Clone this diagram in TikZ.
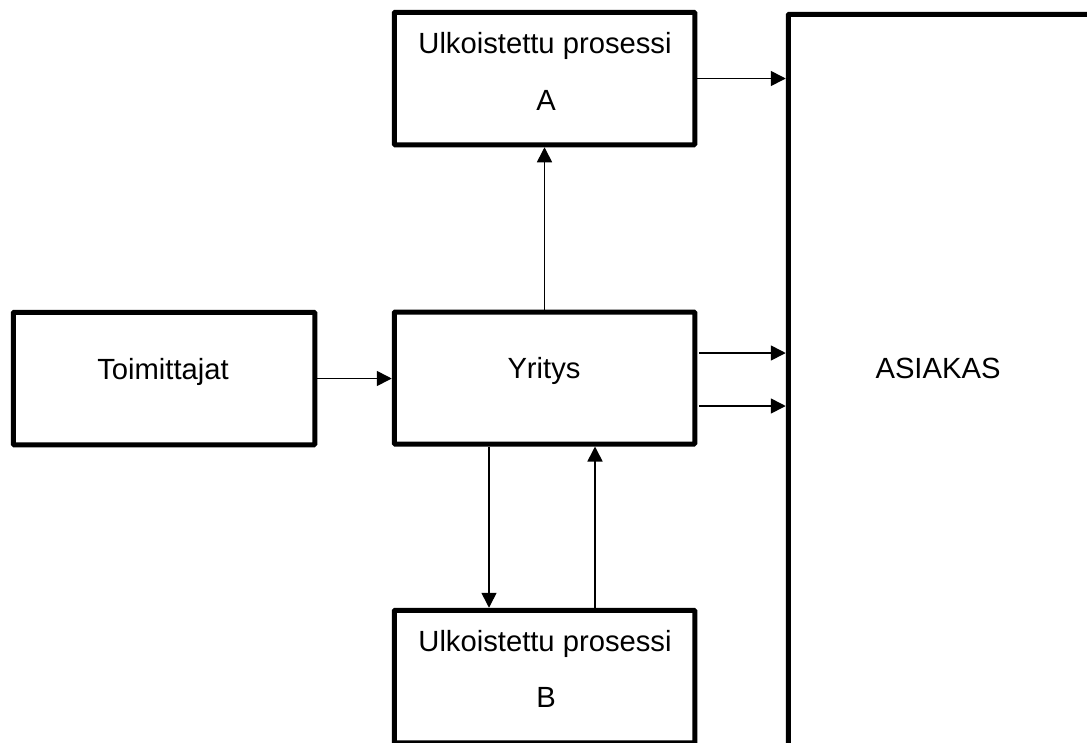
\documentclass[tikz,border=0pt]{standalone}
\usepackage{fontspec}
\setmainfont{Liberation Sans}
\usetikzlibrary{arrows.meta}

\tikzset{
  block/.style={draw=black, line width=5pt, outer sep=2.5pt, inner sep=0pt,
                rounded corners=1pt, fill=white},
  label text/.style={anchor=base, inner sep=0pt,
                font=\fontsize{29.2pt}{35pt}\selectfont},
  arr/.style={line width=1.6pt, -{Triangle[length=15pt,width=15pt]}},
}

\begin{document}
\begin{tikzpicture}[x=1pt, y=-1pt]
  \useasboundingbox (0,0) rectangle (1087,742);
  \clip (0,0) rectangle (1087,742);
  \fill[white] (0,0) rectangle (1087,742);

  % boxes
  \node[block, minimum width=300.5pt, minimum height=132.5pt] (a)      at (544.5,78.5)  {};
  \node[block, minimum width=301.5pt, minimum height=132.5pt] (toim)   at (164,378.5)   {};
  \node[block, minimum width=300.5pt, minimum height=132pt]   (yritys) at (544.5,378)   {};
  \node[block, minimum width=300.5pt, minimum height=132.5pt] (b)      at (544.5,676.5) {};
  \node[block, minimum width=340pt,   minimum height=760pt]   (asiakas) at (958.25,394.25) {};

  % texts
  \node[label text] (a1) at (545,53.3) {Ulkoistettu prosessi};
  \node[label text] (a2) at (546,110) {A};
  \node[label text] (t1) at (163,379) {Toimittajat};
  \node[label text] (y1) at (544,378) {Yritys};
  \node[label text] (s1) at (938,378) {ASIAKAS};
  \node[label text] (b1) at (545,651.7) {Ulkoistettu prosessi};
  \node[label text] (b2) at (546,707) {B};

  % connectors
  \draw[arr] (a.east) -- (a.east -| asiakas.west);
  \draw[arr] (toim.east) -- (toim.east -| yritys.west);
  \draw[arr] ([xshift=2pt,yshift=25pt]yritys.east) -- ([yshift=25pt]yritys.east -| asiakas.west);
  \draw[arr] ([xshift=2pt,yshift=-28pt]yritys.east) -- ([yshift=-28pt]yritys.east -| asiakas.west);
  \draw[arr] (yritys.north) -- (a.south);
  \draw[arr] ([xshift=-55.5pt]yritys.south) -- ([xshift=-55.5pt]b.north);
  \draw[arr] ([xshift=50.5pt]b.north) -- ([xshift=50.5pt]yritys.south);
\end{tikzpicture}
\end{document}
